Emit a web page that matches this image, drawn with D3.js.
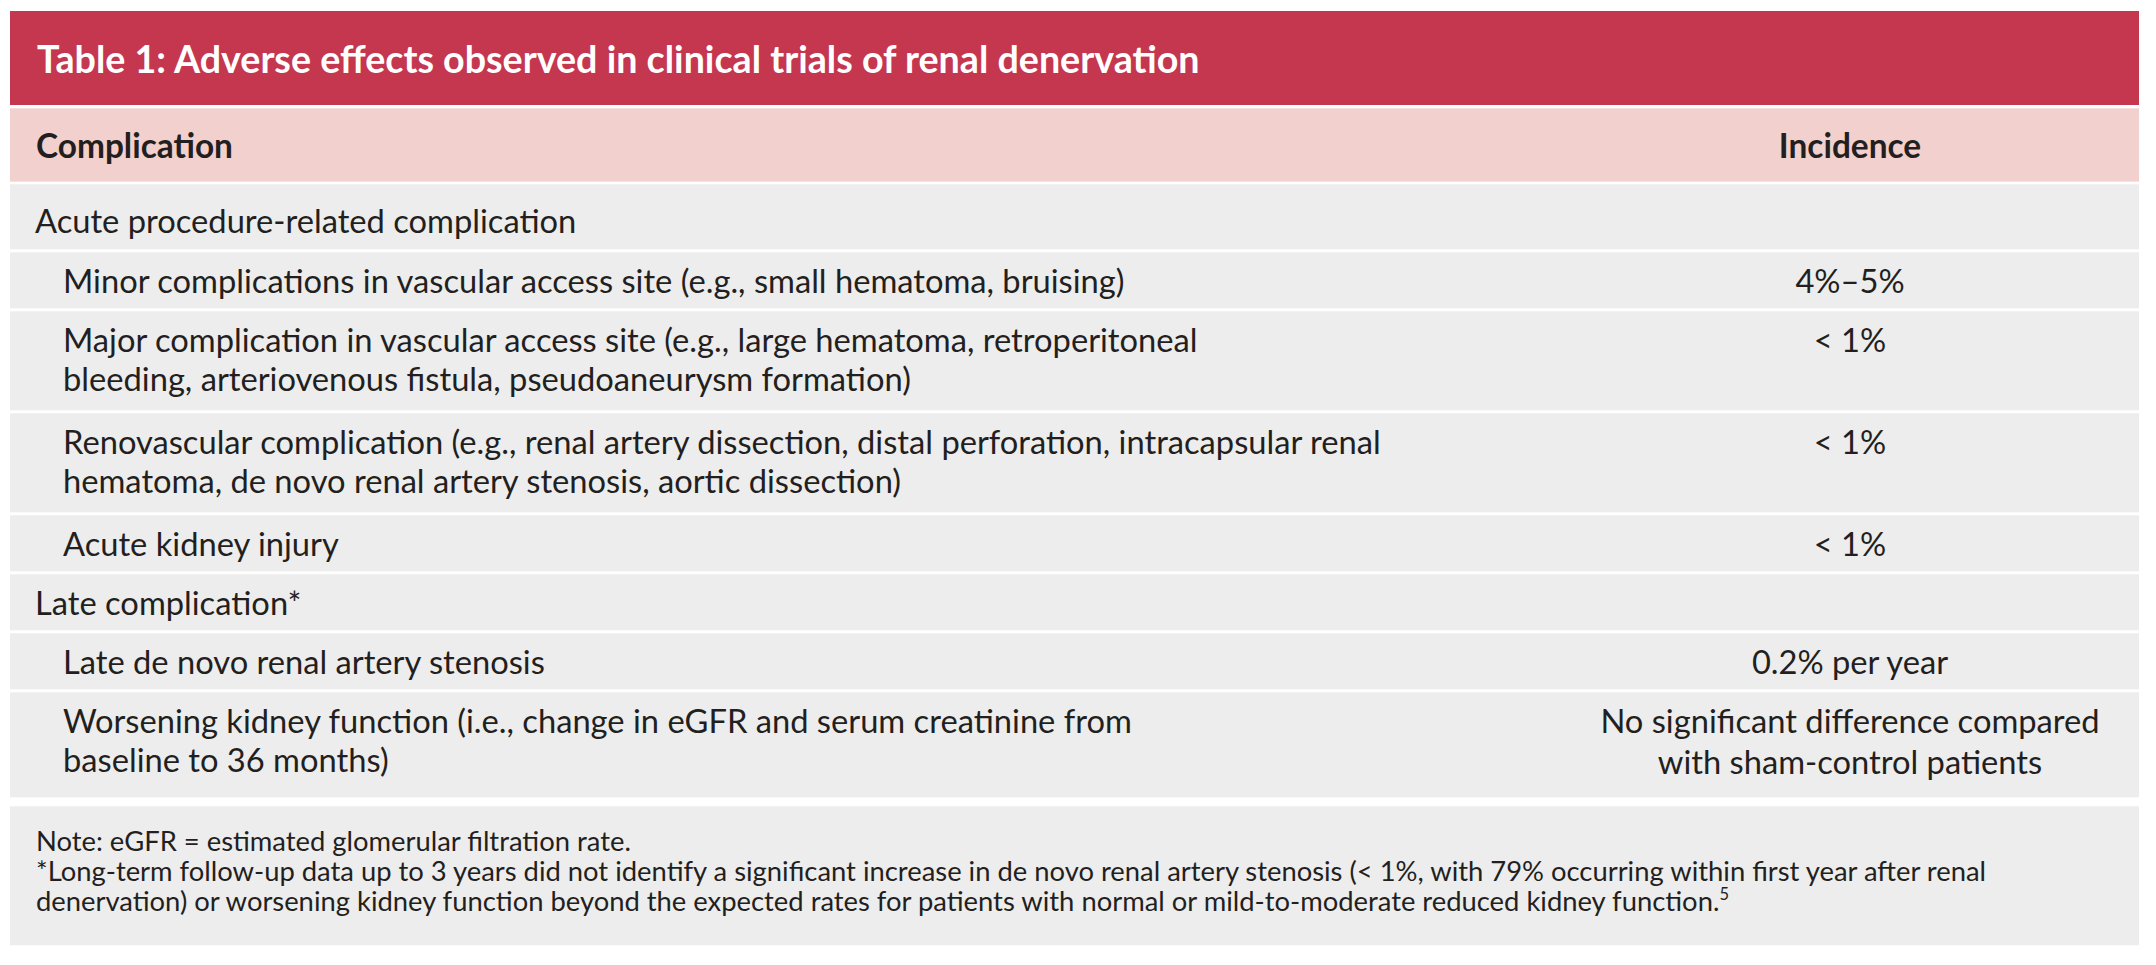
<!DOCTYPE html>
<html>
<head>
<meta charset="utf-8">
<script src="https://cdn.jsdelivr.net/npm/d3@7"></script>
<style>
  body { margin: 0; background: #fff; }
</style>
</head>
<body>
<div id="table1"></div>
<script>
// table content
const title = "Table 1: Adverse effects observed in clinical trials of renal denervation";
const headers = ["Complication", "Incidence"];

// 0 = group heading, 1 = indented item
const rowLevels = [0, 1, 1, 1, 1, 0, 1, 1];
const rowLabels = [
  ["Acute procedure-related complication"],
  ["Minor complications in vascular access site (e.g., small hematoma, bruising)"],
  ["Major complication in vascular access site (e.g., large hematoma, retroperitoneal",
   "bleeding, arteriovenous fistula, pseudoaneurysm formation)"],
  ["Renovascular complication (e.g., renal artery dissection, distal perforation, intracapsular renal",
   "hematoma, de novo renal artery stenosis, aortic dissection)"],
  ["Acute kidney injury"],
  ["Late complication*"],
  ["Late de novo renal artery stenosis"],
  ["Worsening kidney function (i.e., change in eGFR and serum creatinine from",
   "baseline to 36 months)"]
];
const rowIncidence = [
  [],
  ["4%\u20135%"],
  ["< 1%"],
  ["< 1%"],
  ["< 1%"],
  [],
  ["0.2% per year"],
  ["No significant difference compared", "with sham-control patients"]
];
const noteLines = [
  "Note: eGFR = estimated glomerular filtration rate.",
  "*Long-term follow-up data up to 3 years did not identify a significant increase in de novo renal artery stenosis (< 1%, with 79% occurring within first year after renal",
  "denervation) or worsening kidney function beyond the expected rates for patients with normal or mild-to-moderate reduced kidney function."
];
const noteRef = "5";

// layout
const W = 2156, H = 965;
const left = 10, right = 2139, col2 = 1561;
const FONT = "Lato, 'Noto Sans', sans-serif";
const red = "#c5364f", pink = "#f2d0cd", grey = "#ededed", ink = "#231f20";

const svg = d3.select("#table1").append("svg")
  .attr("width", W)
  .attr("height", H);

// pick font sizes so the text runs as wide as in the original
function fitSize(weight, sample, target) {
  const t = svg.append("text")
    .attr("font-family", FONT)
    .attr("font-weight", weight)
    .attr("font-size", 100)
    .text(sample);
  const w = t.node().getComputedTextLength();
  t.remove();
  return 100 * target / w;
}
const titleSize = fitSize(700, title, 1163);
const headSize = fitSize(700, headers[0], 197);
const bodySize = fitSize(400, rowLabels[1][0], 1062);
const noteSize = fitSize(400, noteLines[1], 1951);

// title bar
svg.append("rect")
  .attr("x", left).attr("y", 11)
  .attr("width", right - left).attr("height", 94)
  .attr("fill", red);
svg.append("text")
  .attr("x", 37).attr("y", 72.5)
  .attr("font-family", FONT).attr("font-weight", 700)
  .attr("font-size", titleSize)
  .attr("fill", "#fff")
  .text(title);

// header row
svg.append("rect")
  .attr("x", left).attr("y", 108.3)
  .attr("width", right - left).attr("height", 73.3)
  .attr("fill", pink);
svg.selectAll("text.head")
  .data(headers)
  .join("text")
  .attr("class", "head")
  .attr("x", (d, i) => i === 0 ? 36 : (col2 + right) / 2)
  .attr("y", 158.3)
  .attr("text-anchor", (d, i) => i === 0 ? "start" : "middle")
  .attr("font-family", FONT).attr("font-weight", 700)
  .attr("font-size", headSize)
  .attr("fill", ink)
  .text(d => d);

// body rows: heights follow the number of lines in each cell
const rows = rowLabels.map((lab, i) => {
  const hl = 56 + (lab.length - 1) * 43;
  const hr = 56 + Math.max(0, rowIncidence[i].length - 1) * 49;
  return {
    label: lab,
    level: rowLevels[i],
    incidence: rowIncidence[i],
    pad: i === 0 ? 8 : 0,
    h: Math.max(hl, hr) + (i === 0 ? 9 : 0)
  };
});
let yCursor = 184.3;
rows.forEach(r => { r.y = yCursor; yCursor += r.h + 3; });
const bodyBottom = yCursor - 3;

const rowG = svg.selectAll("g.row")
  .data(rows)
  .join("g")
  .attr("class", "row")
  .attr("transform", d => `translate(0,${d.y})`);

rowG.append("rect")
  .attr("x", left).attr("width", right - left)
  .attr("height", d => d.h)
  .attr("fill", grey);

rowG.append("text")
  .attr("font-family", FONT)
  .attr("font-size", bodySize)
  .attr("fill", ink)
  .selectAll("tspan")
  .data(d => d.label.map((t, k) => ({ t, k, d })))
  .join("tspan")
  .attr("x", o => o.d.level === 0 ? 35 : 63)
  .attr("y", o => 41 + o.d.pad + o.k * 39)
  .text(o => o.t);

rowG.append("text")
  .attr("font-family", FONT)
  .attr("font-size", bodySize)
  .attr("fill", ink)
  .attr("text-anchor", "middle")
  .selectAll("tspan")
  .data(d => d.incidence.map((t, k) => ({ t, k, d })))
  .join("tspan")
  .attr("x", (col2 + right) / 2)
  .attr("y", o => 41 + o.d.pad + o.k * 41)
  .text(o => o.t);

// notes box
const noteTop = bodyBottom + 9;
svg.append("rect")
  .attr("x", left).attr("y", noteTop)
  .attr("width", right - left).attr("height", 139)
  .attr("fill", grey);

const notes = svg.append("text")
  .attr("font-family", FONT)
  .attr("font-size", noteSize)
  .attr("fill", ink);
notes.selectAll("tspan.line")
  .data(noteLines)
  .join("tspan")
  .attr("class", "line")
  .attr("x", 36)
  .attr("y", (d, i) => noteTop + 44.3 + i * 30)
  .text(d => d);
notes.append("tspan")
  .attr("font-size", noteSize * 0.6)
  .attr("dy", -noteSize * 0.38)
  .text(noteRef);
</script>
</body>
</html>
